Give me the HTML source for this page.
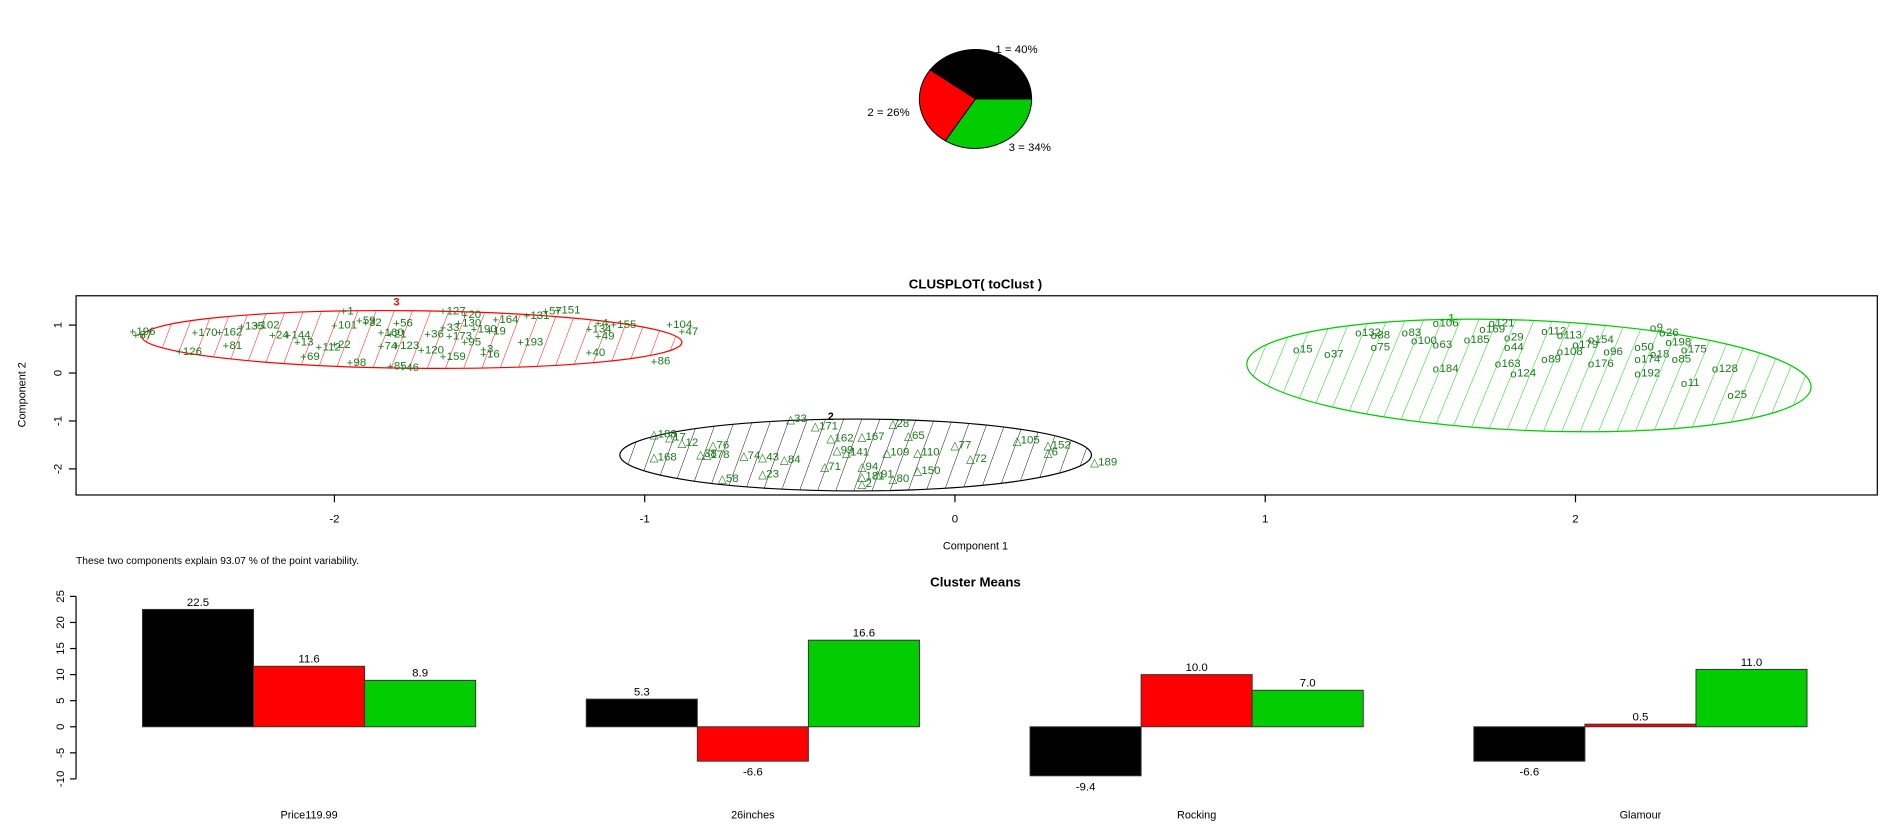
<!DOCTYPE html>
<html><head><meta charset="utf-8"><style>
html,body{margin:0;padding:0;background:#fff;}
svg{display:block;font-family:"Liberation Sans",Arial,sans-serif;}
</style></head><body>
<svg id="chart" width="1893" height="833" viewBox="0 0 1568 690" preserveAspectRatio="none" xmlns="http://www.w3.org/2000/svg">
<defs>
<pattern id="hr" patternUnits="userSpaceOnUse" width="15" height="40" patternTransform="skewX(-20)"><line x1="0" y1="0" x2="0" y2="40" stroke="#ff0000" stroke-width="0.8"/></pattern>
<pattern id="hk" patternUnits="userSpaceOnUse" width="15" height="40" patternTransform="skewX(-20)"><line x1="0" y1="0" x2="0" y2="40" stroke="#000" stroke-width="0.8"/></pattern>
<pattern id="hg" patternUnits="userSpaceOnUse" width="15" height="40" patternTransform="skewX(-20)"><line x1="0" y1="0" x2="0" y2="40" stroke="#00cc00" stroke-width="0.8"/></pattern>
</defs>
<g id="pie"></g>
<g id="clus"></g>
<g id="bars"></g>
</svg>
<script>
const NS="http://www.w3.org/2000/svg";
// pie data
const pieLabels=["1 = 40%","2 = 26%","3 = 34%"];
const pieValues=[40,26,34];
const pieColors=["#000000","#ff0000","#00cc00"];
// clusplot data (component coords)
const redX=[-2.65,-2.64,-2.45,-2.37,-2.3,-2.25,-2.5,-2.35,-2.2,-2.15,-2.12,-2.05,-2.0,-2.1,-2.0,-1.97,-1.9,-1.92,-1.8,-1.85,-1.82,-1.85,-1.8,-1.95,-1.82,-1.78,-1.7,-1.72,-1.6,-1.65,-1.63,-1.65,-1.58,-1.65,-1.58,-1.55,-1.5,-1.52,-1.52,-1.4,-1.48,-1.38,-1.32,-1.28,-1.15,-1.1,-1.18,-1.15,-1.18,-0.92,-0.88,-0.97];
const redY=[0.87,0.8,0.85,0.86,0.98,1.0,0.45,0.58,0.8,0.8,0.65,0.55,0.6,0.35,1.0,1.3,1.06,1.1,1.05,0.85,0.82,0.57,0.58,0.22,0.15,0.12,0.82,0.48,1.05,0.95,0.78,0.35,0.65,1.3,1.22,0.92,0.88,0.5,0.4,0.65,1.12,1.2,1.3,1.32,1.05,1.02,0.92,0.78,0.43,1.02,0.87,0.25];
const redL=["196","87","170","162","135","102","126","81","24","144","13","112","22","69","101","1","32","59","56","160","21","74","123","98","85","46","36","120","130","33","173","159","95","127","20","190","19","3","16","193","164","131","57","151","4","155","134","49","40","104","47","86"];
const blkX=[-0.97,-0.97,-0.92,-0.88,-0.78,-0.8,-0.82,-0.75,-0.68,-0.62,-0.62,-0.55,-0.53,-0.45,-0.4,-0.3,-0.42,-0.38,-0.35,-0.22,-0.3,-0.3,-0.3,-0.25,-0.2,-0.2,-0.15,-0.12,-0.12,0.0,0.05,0.2,0.3,0.3,0.45];
const blkY=[-1.75,-1.27,-1.33,-1.45,-1.5,-1.7,-1.68,-2.2,-1.72,-2.1,-1.75,-1.8,-0.95,-1.1,-1.35,-1.32,-1.95,-1.6,-1.65,-1.65,-1.95,-2.15,-2.3,-2.1,-2.2,-1.05,-1.3,-1.65,-2.03,-1.5,-1.78,-1.4,-1.5,-1.65,-1.85];
const blkL=["168","188","17","12","76","178","38","58","74","23","43","84","33","171","162","167","71","99","141","109","94","181","2","91","80","28","65","110","150","77","72","105","152","6","189"];
const grnX=[1.1,1.2,1.3,1.35,1.45,1.55,1.35,1.48,1.55,1.55,1.73,1.7,1.65,1.75,1.8,1.78,1.78,1.9,1.95,2.05,1.95,2.0,2.05,1.9,2.1,2.2,2.25,2.28,2.3,2.25,2.32,2.2,2.45,2.35,2.5,2.35,2.2];
const grnY=[0.5,0.4,0.85,0.8,0.85,1.05,0.55,0.68,0.6,0.1,1.05,0.92,0.7,0.2,0.0,0.75,0.55,0.88,0.8,0.7,0.45,0.6,0.2,0.3,0.45,0.55,0.95,0.85,0.65,0.4,0.3,0.0,0.1,-0.2,-0.45,0.5,0.3];
const grnL=["15","37","132","88","83","106","75","100","63","184","121","169","185","163","124","29","44","112","113","154","108","179","176","89","96","50","9","26","198","18","85","192","128","11","25","175","174"];
// ellipses: center x, center y, radius x, radius y (component units)
const ellCX=[-1.75,-0.32,1.85];
const ellCY=[0.7,-1.71,-0.05];
const ellRX=[0.87,0.76,0.91];
const ellRY=[0.6,0.75,1.15];
const xTicks=[-2,-1,0,1,2];
const yTicks=[1,0,-1,-2];
// bar chart data
const barCats=["Price119.99","26inches","Rocking","Glamour"];
const barS1=[22.5,5.3,-9.4,-6.6];
const barS2=[11.6,-6.6,10.0,0.5];
const barS3=[8.9,16.6,7.0,11.0];
const barTicks=[-10,-5,0,5,10,15,20,25];

function mk(tag,attrs,parent,text){const e=document.createElementNS(NS,tag);for(const k in attrs)e.setAttribute(k,attrs[k]);if(text!==undefined)e.textContent=text;parent.appendChild(e);return e;}

// PIE
(function(){
 const g=document.getElementById('pie');
 const cx=808,cy=82,rx=46.5,ry=41;
 const tot=pieValues.reduce((a,b)=>a+b,0);
 let a0=0;
 const lpos=[[842,44,'middle'],[736,96,'middle'],[853,125,'middle']];
 pieValues.forEach((v,i)=>{
  const a1=a0+v/tot*2*Math.PI;
  const x0=cx+rx*Math.cos(a0),y0=cy-ry*Math.sin(a0),x1=cx+rx*Math.cos(a1),y1=cy-ry*Math.sin(a1);
  const large=(a1-a0)>Math.PI?1:0;
  const p=mk('path',{d:`M${cx},${cy}L${x0},${y0}A${rx},${ry} 0 ${large} 0 ${x1},${y1}Z`,fill:pieColors[i],stroke:'#000','stroke-width':0.8},g);
  
  
  const t=mk('text',{x:lpos[i][0],y:lpos[i][1],'font-size':9.5,'text-anchor':lpos[i][2]},g,pieLabels[i]);
  
  
  a0=a1;
 });
})();

// CLUSPLOT
(function(){
 const g=document.getElementById('clus');
 const L=63,T=245,R=1555,B=410;
 const X=v=>791+v*257, Y=v=>309-v*39.7;
 let e;
 e=mk('text',{x:808,y:239,'font-size':11,'font-weight':'bold','text-anchor':'middle'},g,'CLUSPLOT( toClust )');
 
 const clip=mk('clipPath',{id:'cbox'},g);mk('rect',{x:L,y:T,width:R-L,height:B-T},clip);
 const inner=mk('g',{'clip-path':'url(#cbox)'},g);
 const fills=['url(#hr)','url(#hk)','url(#hg)'],strokes=['#ff0000','#000','#00cc00'],rots=[0.6,0,2.4];
 ellCX.forEach((c,i)=>{
  const el=mk('ellipse',{cx:X(c),cy:Y(ellCY[i]),rx:ellRX[i]*257,ry:ellRY[i]*39.7,fill:fills[i],stroke:strokes[i],'stroke-width':1,transform:`rotate(${rots[i]} ${X(c)} ${Y(ellCY[i])})`},inner);
  
  
 });
 const col='#1a7a1a';
 function pts(xs,ys,ls,sym,name){
  xs.forEach((x,i)=>{
   const px=X(x),py=Y(ys[i]);
   const t=mk('text',{x:px,y:py+3.5,'font-size':9.5,fill:col,'text-anchor':'middle'},inner,sym);
   
   
   const l=mk('text',{x:px+3,y:py+3,'font-size':9.5,fill:col},inner,ls[i]);
   
   
  });
 }
 pts(redX,redY,redL,'+','cluster3');
 pts(blkX,blkY,blkL,'\u25B3','cluster2');
 pts(grnX,grnY,grnL,'o','cluster1');
 e=mk('text',{x:X(-1.8),y:Y(1.48)+3,'font-size':9,fill:'#ff0000','font-weight':'bold','text-anchor':'middle'},inner,'3');
 e=mk('text',{x:X(-0.4),y:Y(-0.9)+3,'font-size':9,fill:'#000','font-weight':'bold','text-anchor':'middle'},inner,'2');
 e=mk('text',{x:X(1.6),y:Y(1.15)+3,'font-size':9,fill:'#00cc00','font-weight':'bold','text-anchor':'middle'},inner,'1');
 e=mk('rect',{x:L,y:T,width:R-L,height:B-T,fill:'none',stroke:'#000','stroke-width':1},g);
 xTicks.forEach(v=>{
  mk('line',{x1:X(v),x2:X(v),y1:B,y2:B+6,stroke:'#000'},g);
  const t=mk('text',{x:X(v),y:B+23,'font-size':9.5,'text-anchor':'middle'},g,String(v));
  
 });
 yTicks.forEach(v=>{
  mk('line',{x1:L-6,x2:L,y1:Y(v),y2:Y(v),stroke:'#000'},g);
  const t=mk('text',{x:0,y:0,'font-size':9.5,'text-anchor':'middle',transform:`translate(${L-12},${Y(v)}) rotate(-90)`},g,String(v));
  
 });
 e=mk('text',{x:808,y:455,'font-size':9,'text-anchor':'middle'},g,'Component 1');
 e=mk('text',{x:0,y:0,'font-size':9,'text-anchor':'middle',transform:'translate(21,327) rotate(-90)'},g,'Component 2');
 e=mk('text',{x:63,y:467,'font-size':8.5},g,'These two components explain 93.07 % of the point variability.');
})();

// BARS
(function(){
 const g=document.getElementById('bars');
 const Y=v=>602-v*4.32;
 const L=63;
 let e=mk('text',{x:808,y:486,'font-size':11,'font-weight':'bold','text-anchor':'middle'},g,'Cluster Means');
 
 mk('line',{x1:L,x2:L,y1:Y(25),y2:Y(-10),stroke:'#000'},g);
 barTicks.forEach(v=>{
  mk('line',{x1:L-5,x2:L,y1:Y(v),y2:Y(v),stroke:'#000'},g);
  const t=mk('text',{x:0,y:0,'font-size':9.5,'text-anchor':'middle',transform:`translate(${L-10},${Y(v)}) rotate(-90)`},g,String(v));
  
 });
 const series=[barS1,barS2,barS3],cols=['#000000','#ff0000','#00cc00'];
 const bw=92,gstart=118,gstep=367.6;
 barCats.forEach((c,ci)=>{
  const gx=gstart+ci*gstep;
  series.forEach((s,si)=>{
   const v=s[ci],x=gx+si*bw;
   const top=Math.min(Y(v),Y(0)),h=Math.abs(Y(v)-Y(0));
   const r=mk('rect',{x:x,y:top,width:bw,height:Math.max(h,0.5),fill:cols[si],stroke:'#333','stroke-width':0.8},g);
   
   
   const ly=v>=0?Y(v)-3:Y(v)+12;
   const t=mk('text',{x:x+bw/2,y:ly,'font-size':9.5,'text-anchor':'middle'},g,v.toFixed(1));
   
  });
  const t=mk('text',{x:gx+bw*1.5,y:678,'font-size':9,'text-anchor':'middle'},g,c);
  
 });
})();
</script>
</body></html>
